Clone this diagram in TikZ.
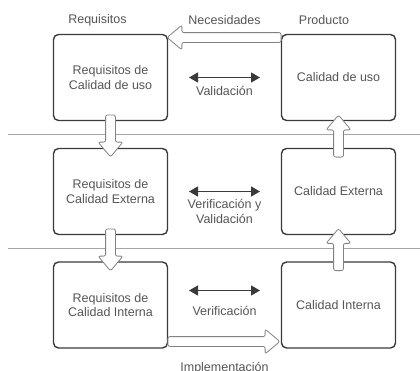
\documentclass[tikz,border=0pt]{standalone}
\usepackage{fontspec}
\setmainfont{Liberation Sans}
\usepackage{tikz}
\usetikzlibrary{shapes.arrows, arrows.meta, positioning, calc}
\usepackage{xcolor}
\definecolor{BoxLine}{RGB}{58, 58, 58}
\definecolor{TextGray}{RGB}{85, 85, 85}
\definecolor{ArrowGray}{RGB}{130, 130, 130}
\definecolor{SepGray}{RGB}{165, 165, 165}
\tikzset{
    box/.style={
        rectangle, rounded corners=5pt, draw=BoxLine, line width=1.4pt,
        minimum width=114pt, minimum height=86pt, outer sep=0pt,
        align=center, text=TextGray, font=\fontsize{12.5}{14.5}\selectfont
    },
    lbl/.style={
        text=TextGray, align=center, inner sep=0pt,
        font=\fontsize{12.5}{14.5}\selectfont
    },
    hollow/.style={
        single arrow, draw=ArrowGray, fill=white, line width=0.8pt,
        inner sep=4.5pt, single arrow head extend=7.5pt,
        single arrow tip angle=80, rounded corners=2pt
    },
    dblarrow/.style={
        {Triangle[length=9pt, width=10pt]}-{Triangle[length=9pt, width=10pt]},
        line width=1.3pt, color=BoxLine,
        shorten <=21.5pt, shorten >=21.5pt
    },
    sepline/.style={draw=SepGray, line width=0.8pt}
}

\begin{document}
\begin{tikzpicture}[x=1pt, y=-1pt, node distance=28pt and 114pt]
    \useasboundingbox (0,0) rectangle (420,370);

    % REQUISITOS
    \node[box] (r1) at (110.5,77.5) {Requisitos de\\Calidad de uso};
    \node[box, below=of r1] (r2) {Requisitos de\\Calidad Externa};
    \node[box, below=27.5pt of r2] (r3) {Requisitos de\\Calidad Interna};

    % PRODUCTO
    \node[box, right=of r1] (p1) {Calidad de uso};
    \node[box, right=of r2] (p2) {Calidad Externa};
    \node[box, right=of r3] (p3) {Calidad Interna};

    % separators
    \coordinate (s1) at ($(r1.south)!.5!(r2.north)$);
    \coordinate (s2) at ($(r2.south)!.5!(r3.north)$);
    \draw[sepline] (8,0 |- s1) -- (420,0 |- s1);
    \draw[sepline] (8,0 |- s2) -- (420,0 |- s2);

    % headings
    \node[lbl] (lreq) at ($(r1.north)+(-13,-14.5)$) {Requisitos};
    \node[lbl] (lprod) at ($(p1.north)+(-14.5,-14.5)$) {Producto};
    \node[lbl] (lnec) at ($(r1.north)!.5!(p1.north)+(0,-14.5)$) {Necesidades};

    % hollow arrows
    \node[hollow, rotate=180, anchor=tail, minimum height=114pt] (need) at ($(p1.north west)+(0,3)$) {};
    \node[hollow, rotate=270, anchor=tail, minimum height=42pt] (d12) at ($(r1.south)+(0,-6)$) {};
    \node[hollow, rotate=270, anchor=tail, minimum height=42pt] (d23) at ($(r2.south)+(0,-6)$) {};
    \node[hollow, rotate=90, anchor=tail, minimum height=42pt] (u21) at ($(p2.north)+(0,9)$) {};
    \node[hollow, rotate=90, anchor=tail, minimum height=42pt] (u32) at ($(p3.north)+(0,9)$) {};
    \node[hollow, anchor=tail, minimum height=112pt] (impl) at ($(r3.south east)+(0,-6.5)$) {};
    \node[lbl] (limpl) at ($(r3.south)!.5!(p3.south)+(0,20)$) {Implementación};

    % V&V
    \draw[dblarrow] (r1) -- (p1) node[lbl, midway, below=8pt] (lval) {Validación};
    \draw[dblarrow] (r2) -- (p2) node[lbl, midway, below=7.5pt] (lvv) {Verificación y\\Validación};
    \draw[dblarrow] ($(r3.east)+(0,-14.5)$) -- ($(p3.west)+(0,-14.5)$);
    \node[lbl] (lver) at ($(r3)!.5!(p3)+(0,5.5)$) {Verificación};

\end{tikzpicture}
\end{document}
